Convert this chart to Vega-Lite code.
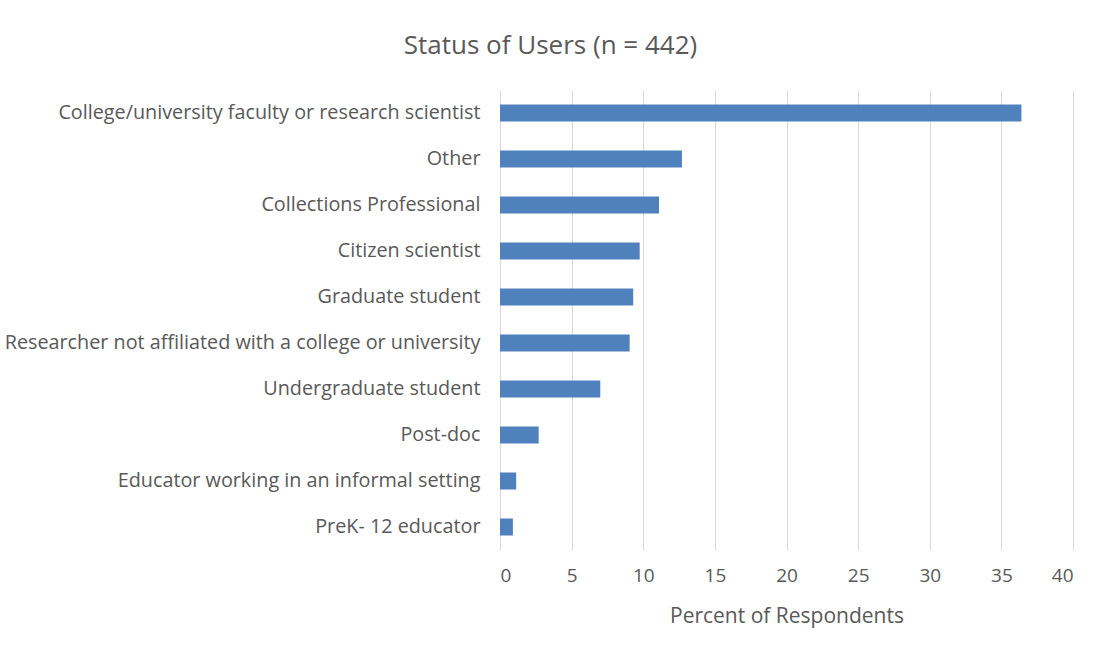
{
  "$schema": "https://vega.github.io/schema/vega-lite/v6.json",
  "width": 573,
  "height": 460,
  "autosize": {"type": "none"},
  "padding": {"left": 500, "top": 90, "right": 43, "bottom": 109},
  "background": "white",
  "title": {
    "text": "Status of Users (n = 442)",
    "font": "Open Sans",
    "fontSize": 26,
    "fontWeight": "normal",
    "color": "#595959",
    "anchor": "middle",
    "dx": -236,
    "offset": 31
  },
  "config": {
    "view": {"stroke": null},
    "axis": {
      "labelFont": "Open Sans",
      "titleFont": "Open Sans",
      "labelColor": "#595959",
      "titleColor": "#595959",
      "domain": false,
      "ticks": false
    }
  },
  "data": {
    "values": [
      {"status": "College/university faculty or research scientist", "pct": 36.4},
      {"status": "Other", "pct": 12.7},
      {"status": "Collections Professional", "pct": 11.1},
      {"status": "Citizen scientist", "pct": 9.75},
      {"status": "Graduate student", "pct": 9.3},
      {"status": "Researcher not affiliated with a college or university", "pct": 9.05},
      {"status": "Undergraduate student", "pct": 7.0},
      {"status": "Post-doc", "pct": 2.7},
      {"status": "Educator working in an informal setting", "pct": 1.13},
      {"status": "PreK- 12 educator", "pct": 0.9}
    ]
  },
  "mark": {"type": "bar", "color": "#4F81BD"},
  "encoding": {
    "y": {
      "field": "status",
      "type": "nominal",
      "sort": null,
      "scale": {"paddingInner": 0.63, "paddingOuter": 0.315},
      "axis": {
        "title": null,
        "labelFontSize": 19.8,
        "labelPadding": 20,
        "labelLimit": 520,
        "grid": false
      }
    },
    "x": {
      "field": "pct",
      "type": "quantitative",
      "scale": {"domain": [0, 40], "nice": false},
      "axis": {
        "title": "Percent of Respondents",
        "titleFontSize": 21,
        "titleFontWeight": "normal",
        "titlePadding": 20,
        "labelFontSize": 19,
        "labelPadding": 16,
        "values": [0, 5, 10, 15, 20, 25, 30, 35, 40],
        "grid": true,
        "gridColor": "#d9d9d9",
        "gridWidth": 1
      }
    }
  }
}
